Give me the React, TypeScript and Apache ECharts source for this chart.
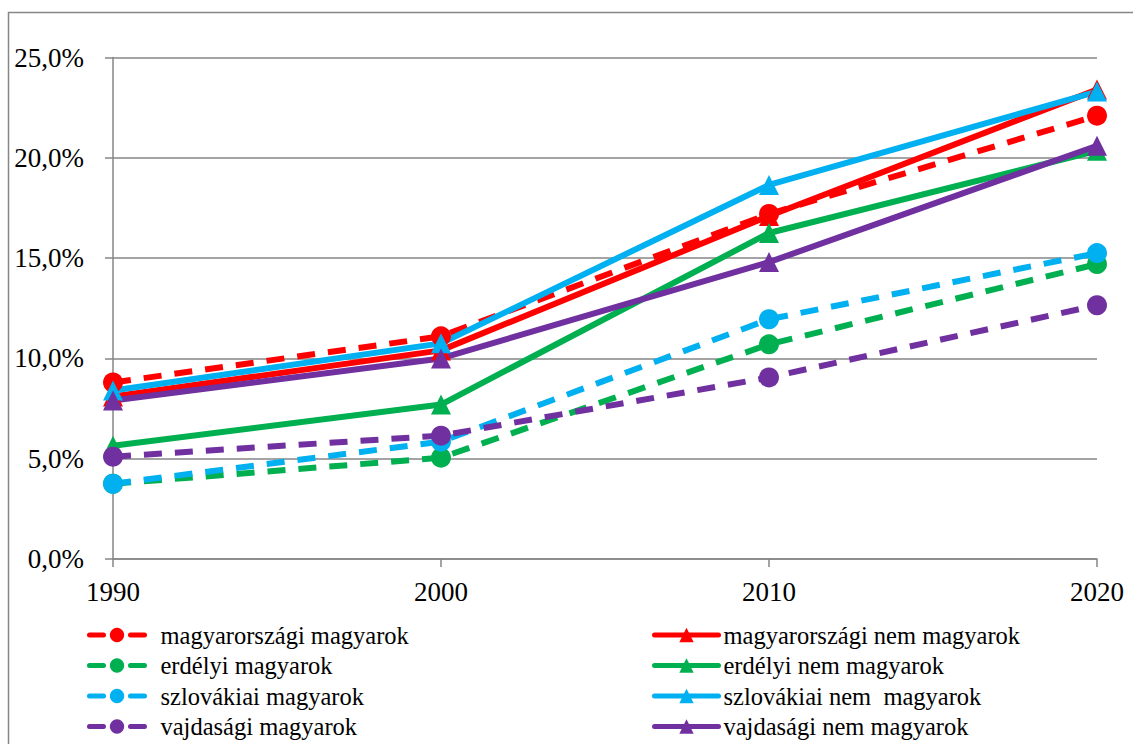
import React, { useEffect, useRef } from "react";
import * as echarts from "echarts";

const years = [1990, 2000, 2010, 2020];
const yTicks = [0, 5, 10, 15, 20, 25];

const moMagyar = [8.8, 11.1, 17.2, 22.1];
const moNem = [8.1, 10.4, 17.1, 23.4];
const erdMagyar = [3.75, 5.05, 10.7, 14.7];
const erdNem = [5.65, 7.7, 16.25, 20.35];
const szlMagyar = [3.75, 5.85, 11.95, 15.25];
const szlNem = [8.4, 10.75, 18.65, 23.3];
const vajMagyar = [5.1, 6.15, 9.05, 12.65];
const vajNem = [7.9, 10.0, 14.8, 20.6];

const names = {
  moM: "magyarországi magyarok",
  moN: "magyarországi nem magyarok",
  erM: "erdélyi magyarok",
  erN: "erdélyi nem magyarok",
  szM: "szlovákiai magyarok",
  szN: "szlovákiai nem  magyarok",
  vaM: "vajdasági magyarok",
  vaN: "vajdasági nem magyarok",
};

const RED = "#FF0000";
const GREEN = "#00B050";
const CYAN = "#00B0F0";
const PURPLE = "#7030A0";
const GRAY = "#868686";
const FONT = "Liberation Serif";

function mk(name: string, vals: number[], color: string, dashed: boolean) {
  return {
    name,
    type: "line",
    data: years.map((y, i) => [y, vals[i]]),
    symbol: dashed ? "circle" : "triangle",
    symbolSize: 20,
    itemStyle: { color },
    lineStyle: { color, width: 6, type: dashed ? [18, 13] : "solid", cap: "butt" },
    emphasis: { disabled: true },
  };
}

export default function App() {
  const ref = useRef<HTMLDivElement>(null);
  useEffect(() => {
    const chart = echarts.init(ref.current!, undefined, { renderer: "svg" });
    chart.setOption({
      animation: false,
      backgroundColor: "#ffffff",
      textStyle: { fontFamily: FONT },
      grid: { left: 113, right: 36, top: 57.5, bottom: 185, containLabel: false },
      xAxis: {
        type: "value",
        min: 1990,
        max: 2020,
        interval: 10,
        axisLine: { show: true, lineStyle: { color: GRAY, width: 1.5 } },
        axisTick: { show: true, length: 8, lineStyle: { color: GRAY, width: 1.5 } },
        splitLine: { show: false },
        axisLabel: { color: "#000", fontSize: 27, fontFamily: FONT, margin: 19, formatter: (v: number) => String(v) },
      },
      yAxis: {
        type: "value",
        min: yTicks[0],
        max: yTicks[yTicks.length - 1],
        interval: 5,
        axisLine: { show: true, lineStyle: { color: GRAY, width: 1.5 } },
        axisTick: { show: true, length: 8, lineStyle: { color: GRAY, width: 1.5 } },
        splitLine: { show: true, lineStyle: { color: GRAY, width: 1.5 } },
        axisLabel: {
          color: "#000",
          fontSize: 27,
          fontFamily: FONT,
          margin: 29,
          formatter: (v: number) => v.toFixed(1).replace(".", ",") + "%",
        },
      },
      legend: [
        {
          orient: "vertical",
          left: 87,
          top: 622.5,
          padding: 0,
          height: 130,
          itemWidth: 55,
          itemHeight: 18,
          itemGap: 5.5,
          lineStyle: { width: 5, type: [14, 27], cap: "round" },
          data: [names.moM, names.erM, names.szM, names.vaM],
          textStyle: { fontSize: 24.5, lineHeight: 24.5, color: "#000", fontFamily: FONT, padding: [0, 0, 0, 11] },
          selectedMode: false,
        },
        {
          orient: "vertical",
          left: 652,
          top: 622.5,
          padding: 0,
          height: 130,
          itemWidth: 64,
          itemHeight: 18,
          itemGap: 5.5,
          lineStyle: { width: 5, cap: "round" },
          data: [names.moN, names.erN, names.szN, names.vaN],
          textStyle: { fontSize: 24.5, lineHeight: 24.5, color: "#000", fontFamily: FONT, padding: [0, 0, 0, 0] },
          selectedMode: false,
        },
      ],
      graphic: [
        {
          type: "rect",
          shape: { x: 8.5, y: 12.5, width: 1300, height: 900 },
          style: { fill: "none", stroke: GRAY, lineWidth: 1.5 },
          silent: true,
        },
      ],
      series: [
        mk(names.moM, moMagyar, RED, true),
        mk(names.moN, moNem, RED, false),
        mk(names.erM, erdMagyar, GREEN, true),
        mk(names.erN, erdNem, GREEN, false),
        mk(names.szM, szlMagyar, CYAN, true),
        mk(names.szN, szlNem, CYAN, false),
        mk(names.vaM, vajMagyar, PURPLE, true),
        mk(names.vaN, vajNem, PURPLE, false),
      ],
    });
    return () => chart.dispose();
  }, []);
  return (
    <div
      ref={ref}
      style={{ position: "absolute", left: 0, top: 0, width: 1133, height: 744 }}
    />
  );
}
